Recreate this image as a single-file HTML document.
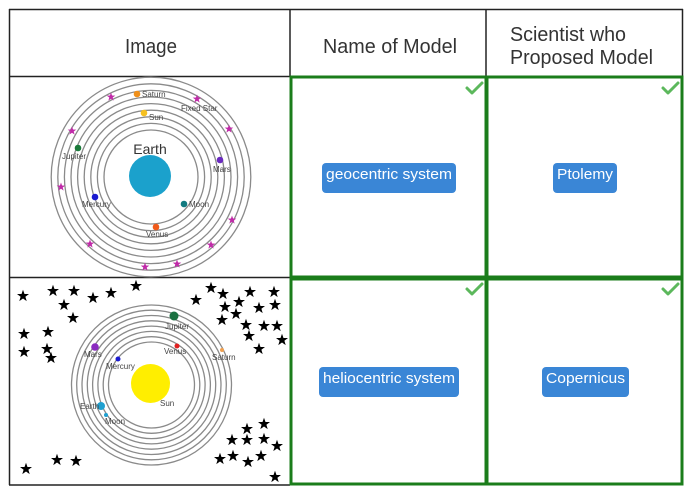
<!DOCTYPE html>
<html><head><meta charset="utf-8"><style>
html,body{margin:0;padding:0;background:#fff;}
svg{display:block;}
text{font-family:"Liberation Sans",Arial,sans-serif;}
</style></head><body>
<svg width="688" height="493" viewBox="0 0 688 493" xmlns="http://www.w3.org/2000/svg">
<defs>
<path id="st" d="M0,-6.3 L1.48,-2.04 L6,-1.94 L2.39,0.78 L3.7,5.1 L0,2.52 L-3.7,5.1 L-2.39,0.78 L-6,-1.94 L-1.48,-2.04 Z"/>
<path id="ms" d="M0,-4.5 L1.06,-1.46 L4.28,-1.39 L1.71,0.56 L2.65,3.64 L0,1.8 L-2.65,3.64 L-1.71,0.56 L-4.28,-1.39 L-1.06,-1.46 Z"/>
</defs>
<rect width="688" height="493" fill="#fff"/>

<g stroke="#222" stroke-width="1.5" fill="none">
<line x1="9" y1="9.5" x2="683" y2="9.5"/>
<line x1="9.5" y1="9" x2="9.5" y2="485"/>
<line x1="682.5" y1="9" x2="682.5" y2="76"/>
<line x1="290" y1="9" x2="290" y2="76"/>
<line x1="486" y1="9" x2="486" y2="76"/>
<line x1="9" y1="76.5" x2="290" y2="76.5"/>
<line x1="9" y1="277.5" x2="290" y2="277.5"/>
<line x1="9" y1="485" x2="290" y2="485"/>
</g>

<g fill="#333" font-size="20">
<text x="125" y="53" textLength="52" lengthAdjust="spacingAndGlyphs">Image</text>
<text x="323" y="53" textLength="134" lengthAdjust="spacingAndGlyphs">Name of Model</text>
<text x="510" y="41" textLength="116" lengthAdjust="spacingAndGlyphs">Scientist who</text>
<text x="510" y="64" textLength="143" lengthAdjust="spacingAndGlyphs">Proposed Model</text>
</g>

<g stroke="#1b7d1b" stroke-width="3" fill="none">
<rect x="291" y="77" width="195" height="200"/>
<rect x="487" y="77" width="195" height="200"/>
<rect x="291" y="279" width="195" height="205"/>
<rect x="487" y="279" width="195" height="205"/>
</g>

<g stroke="#5cb85c" stroke-width="3" fill="none" stroke-linecap="round" stroke-linejoin="round">
<polyline points="467,88 472,93 482,83"/>
<polyline points="663,88 668,93 678,83"/>
<polyline points="467,289 472,294 482,284"/>
<polyline points="663,289 668,294 678,284"/>
</g>

<g fill="#3a86d6">
<rect x="322" y="163" width="134" height="30" rx="4"/>
<rect x="553" y="163" width="64" height="30" rx="4"/>
<rect x="319" y="367" width="140" height="30" rx="4"/>
<rect x="542" y="367" width="87" height="30" rx="4"/>
</g>
<g fill="#fff" font-size="15">
<text x="326" y="179" textLength="126" lengthAdjust="spacingAndGlyphs">geocentric system</text>
<text x="557" y="179" textLength="56" lengthAdjust="spacingAndGlyphs">Ptolemy</text>
<text x="323" y="383" textLength="132" lengthAdjust="spacingAndGlyphs">heliocentric system</text>
<text x="546" y="383" textLength="79" lengthAdjust="spacingAndGlyphs">Copernicus</text>
</g>

<g stroke="#8a8a8a" stroke-width="1.3" fill="none">
<circle cx="151" cy="177" r="47"/>
<circle cx="151" cy="177" r="53.6"/>
<circle cx="151" cy="177" r="60.2"/>
<circle cx="151" cy="177" r="66.8"/>
<circle cx="151" cy="177" r="73.4"/>
<circle cx="151" cy="177" r="80"/>
<circle cx="151" cy="177" r="86.6"/>
<circle cx="151" cy="177" r="93.2"/>
<circle cx="151" cy="177" r="99.8"/>
</g>
<circle cx="150" cy="176" r="21" fill="#1ba1cc"/>
<text x="150" y="154" font-size="14" fill="#333" text-anchor="middle">Earth</text>
<circle cx="137" cy="94" r="3.3" fill="#f0901a"/>
<circle cx="144" cy="113" r="3.3" fill="#f5c020"/>
<circle cx="78" cy="148" r="3.3" fill="#1a7a3a"/>
<circle cx="220" cy="160" r="3.3" fill="#6a2ac0"/>
<circle cx="95" cy="197" r="3.3" fill="#1a1ad0"/>
<circle cx="184" cy="204" r="3.3" fill="#117a80"/>
<circle cx="156" cy="227" r="3.3" fill="#f05a1a"/>
<g fill="#444" font-size="8">
<text x="142" y="97">Saturn</text>
<text x="149" y="120">Sun</text>
<text x="181" y="111">Fixed Star</text>
<text x="62" y="159">Jupiter</text>
<text x="213" y="172">Mars</text>
<text x="82" y="207">Mercury</text>
<text x="189" y="207">Moon</text>
<text x="146" y="237">Venus</text>
</g>
<g fill="#c02aa8">
<use href="#ms" x="111" y="97"/>
<use href="#ms" x="197" y="99"/>
<use href="#ms" x="72" y="131"/>
<use href="#ms" x="229" y="129"/>
<use href="#ms" x="61" y="187"/>
<use href="#ms" x="232" y="220"/>
<use href="#ms" x="90" y="244"/>
<use href="#ms" x="211" y="245"/>
<use href="#ms" x="145" y="267"/>
<use href="#ms" x="177" y="264"/>
</g>

<g stroke="#8a8a8a" stroke-width="1.3" fill="none">
<circle cx="151.5" cy="385" r="43"/>
<circle cx="151.5" cy="385" r="48.3"/>
<circle cx="151.5" cy="385" r="53.6"/>
<circle cx="151.5" cy="385" r="58.9"/>
<circle cx="151.5" cy="385" r="64.2"/>
<circle cx="151.5" cy="385" r="69.5"/>
<circle cx="151.5" cy="385" r="74.8"/>
<circle cx="151.5" cy="385" r="80"/>
</g>
<circle cx="150.5" cy="383.5" r="19.5" fill="#ffee00"/>
<circle cx="174" cy="316" r="4.5" fill="#1a7040"/>
<circle cx="95" cy="347" r="3.8" fill="#8a2ac0"/>
<circle cx="177" cy="346" r="2.5" fill="#e02020"/>
<circle cx="222" cy="350" r="2" fill="#f0a050"/>
<circle cx="118" cy="359" r="2.5" fill="#1a1ad0"/>
<circle cx="101" cy="406" r="4" fill="#20a0d0"/>
<circle cx="106" cy="415" r="2" fill="#20a0d0"/>
<g fill="#444" font-size="8">
<text x="165" y="329">Jupiter</text>
<text x="84" y="357">Mars</text>
<text x="164" y="354">Venus</text>
<text x="212" y="360">Saturn</text>
<text x="106" y="369">Mercury</text>
<text x="160" y="406">Sun</text>
<text x="80" y="409">Earth</text>
<text x="105" y="424">Moon</text>
</g>
<g fill="#000">
<use href="#st" x="23" y="296"/>
<use href="#st" x="53" y="291"/>
<use href="#st" x="74" y="291"/>
<use href="#st" x="93" y="298"/>
<use href="#st" x="111" y="293"/>
<use href="#st" x="136" y="286"/>
<use href="#st" x="64" y="305"/>
<use href="#st" x="73" y="318"/>
<use href="#st" x="24" y="334"/>
<use href="#st" x="48" y="332"/>
<use href="#st" x="24" y="352"/>
<use href="#st" x="47" y="349"/>
<use href="#st" x="51" y="358"/>
<use href="#st" x="196" y="300"/>
<use href="#st" x="211" y="288"/>
<use href="#st" x="223" y="294"/>
<use href="#st" x="250" y="292"/>
<use href="#st" x="274" y="292"/>
<use href="#st" x="239" y="302"/>
<use href="#st" x="225" y="307"/>
<use href="#st" x="275" y="305"/>
<use href="#st" x="259" y="308"/>
<use href="#st" x="236" y="314"/>
<use href="#st" x="222" y="320"/>
<use href="#st" x="246" y="325"/>
<use href="#st" x="264" y="326"/>
<use href="#st" x="277" y="326"/>
<use href="#st" x="249" y="336"/>
<use href="#st" x="282" y="340"/>
<use href="#st" x="259" y="349"/>
<use href="#st" x="247" y="429"/>
<use href="#st" x="264" y="424"/>
<use href="#st" x="232" y="440"/>
<use href="#st" x="247" y="440"/>
<use href="#st" x="264" y="439"/>
<use href="#st" x="277" y="446"/>
<use href="#st" x="220" y="459"/>
<use href="#st" x="233" y="456"/>
<use href="#st" x="248" y="462"/>
<use href="#st" x="261" y="456"/>
<use href="#st" x="275" y="477"/>
<use href="#st" x="57" y="460"/>
<use href="#st" x="76" y="461"/>
<use href="#st" x="26" y="469"/>
</g>
</svg>
</body></html>
